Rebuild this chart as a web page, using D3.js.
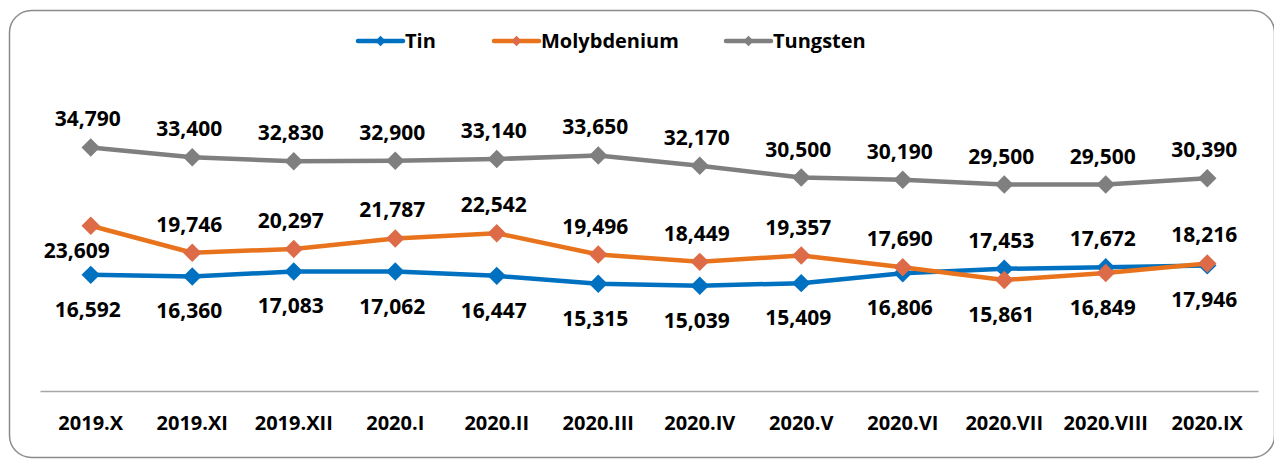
<!DOCTYPE html>
<html>
<head>
  <meta charset="UTF-8">
  <script src="https://d3js.org/d3.v7.min.js"></script>
  <title>Tin, Molybdenium and Tungsten prices</title>
  <style type="text/css">
    html, body { margin:0; padding:0; background:#fff; }
    svg text { font-family: "Open Sans", "Noto Sans", sans-serif; font-weight: bold; fill: #000; }
  </style>
</head>
<body>
  <div class="chart"></div>
  <script>
    // months on the x axis
    var months = ["2019.X", "2019.XI", "2019.XII", "2020.I", "2020.II", "2020.III",
                  "2020.IV", "2020.V", "2020.VI", "2020.VII", "2020.VIII", "2020.IX"];

    var tin = [16592, 16360, 17083, 17062, 16447, 15315, 15039, 15409, 16806, 17453, 17672, 17946];
    var molybdenium = [23609, 19746, 20297, 21787, 22542, 19496, 18449, 19357, 17690, 15861, 16849, 18216];
    var tungsten = [34790, 33400, 32830, 32900, 33140, 33650, 32170, 30500, 30190, 29500, 29500, 30390];

    var seriesNames = ["Tin", "Molybdenium", "Tungsten"];

    var svgWidth = 1274, svgHeight = 461;
    var margin = {top: 76, right: 16, bottom: 70, left: 40};

    var svg = d3.select(".chart")
      .append("svg")
      .attr("width", svgWidth)
      .attr("height", svgHeight);

    // rounded chart frame, right edge just at the window border
    svg.append("rect")
      .attr("x", 9.5)
      .attr("y", 10.5)
      .attr("width", 1265)
      .attr("height", 447)
      .attr("rx", 22)
      .attr("fill", "none")
      .attr("stroke", "#8c8c8c")
      .attr("stroke-width", 1.5);

    var xScale = d3.scaleBand()
      .domain(months)
      .range([margin.left, svgWidth - margin.right]);

    var yScale = d3.scaleLinear()
      .domain([0, 45000])
      .range([svgHeight - margin.bottom, margin.top]);

    var cx = function(i) { return xScale(months[i]) + xScale.bandwidth() / 2; };

    // x axis
    var xAxis = svg.append("g")
      .attr("transform", "translate(0," + yScale(0) + ")")
      .call(d3.axisBottom(xScale).tickSize(0).tickPadding(25));
    xAxis.select(".domain").attr("stroke", "#a6a6a6").attr("stroke-width", 1.5);
    xAxis.selectAll("text").style("font-size", "20px");

    var series = [
      {name: "Tin", values: tin, line: "#0070c0", marker: "#0070c0"},
      {name: "Molybdenium", values: molybdenium, line: "#e8731c", marker: "#de6b47"},
      {name: "Tungsten", values: tungsten, line: "#7f7f7f", marker: "#7f7f7f"}
    ];

    var line = d3.line()
      .x(function(d, i) { return cx(i); })
      .y(function(d) { return yScale(d); });

    var diamond = d3.symbol().type(d3.symbolSquare).size(170);
    var smallDiamond = d3.symbol().type(d3.symbolSquare).size(55);

    series.forEach(function(s) {
      svg.append("path")
        .datum(s.values)
        .attr("d", line)
        .attr("fill", "none")
        .attr("stroke", s.line)
        .attr("stroke-width", 4.5)
        .attr("stroke-linejoin", "round");

      svg.selectAll(null)
        .data(s.values)
        .enter()
        .append("path")
        .attr("d", diamond)
        .attr("transform", function(d, i) { return "translate(" + cx(i) + "," + yScale(d) + ") rotate(45)"; })
        .attr("fill", s.marker);
    });

    // data labels: the higher of tin / molybdenium sits above its marker,
    // the lower one below; tungsten always above
    function labelSide(name, i) {
      if (name === "Tungsten") return "above";
      var other = name === "Tin" ? molybdenium[i] : tin[i];
      var own = name === "Tin" ? tin[i] : molybdenium[i];
      if (i === 0 && name === "Molybdenium") return "belowLeft";
      return own >= other ? "above" : "below";
    }

    series.forEach(function(s) {
      svg.selectAll(null)
        .data(s.values)
        .enter()
        .append("text")
        .attr("text-anchor", "middle")
        .style("font-size", "21px")
        .attr("x", function(d, i) {
          return labelSide(s.name, i) === "belowLeft" ? cx(i) - 14 : cx(i) - 3;
        })
        .attr("y", function(d, i) {
          var side = labelSide(s.name, i);
          if (side === "above") return yScale(d) - 21;
          if (side === "belowLeft") return yScale(d) + 32;
          return yScale(d) + 42;
        })
        .text(function(d) { return d3.format(",")(d); });
    });

    // legend
    var legendX = [358, 494, 726];
    var legend = svg.append("g").attr("transform", "translate(0,41)");
    series.forEach(function(s, k) {
      var g = legend.append("g").attr("transform", "translate(" + legendX[k] + ",0)");
      g.append("line")
        .attr("x1", 0).attr("x2", 45)
        .attr("stroke", s.line)
        .attr("stroke-width", 4.5)
        .attr("stroke-linecap", "round");
      g.append("path")
        .attr("d", smallDiamond)
        .attr("transform", "translate(22.5,0) rotate(45)")
        .attr("fill", s.marker);
      g.append("text")
        .attr("x", 47)
        .attr("y", 7)
        .style("font-size", "20px")
        .text(s.name);
    });
  </script>
</body>
</html>
